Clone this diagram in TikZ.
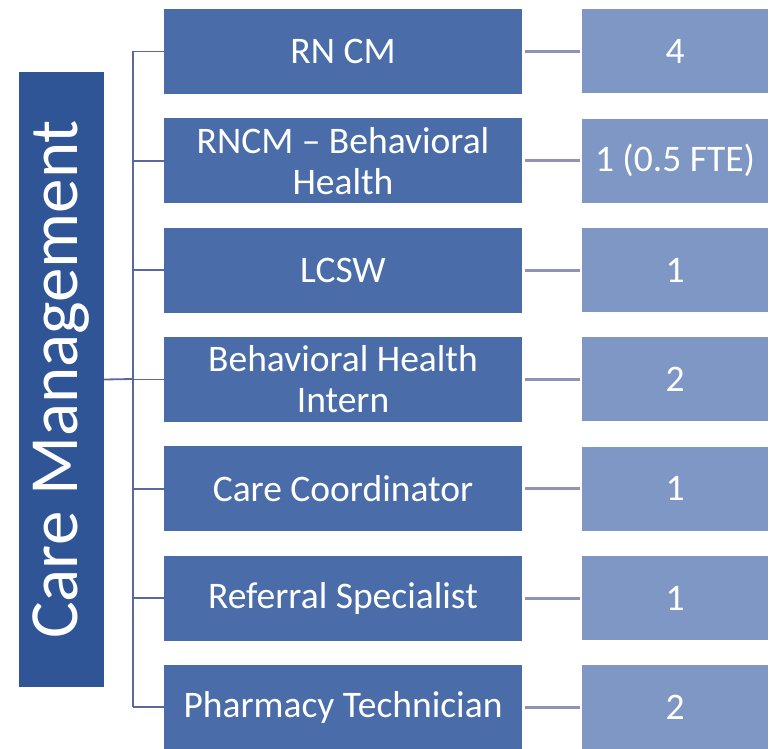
\documentclass[tikz,border=0pt]{standalone}
\usepackage{fontspec}
\setmainfont{Carlito}
\usetikzlibrary{positioning,calc}

\definecolor{mgrblue}{HTML}{2F5597}
\definecolor{roleblue}{HTML}{4A6DAA}
\definecolor{countblue}{HTML}{7F97C4}
\definecolor{treeline}{HTML}{5A68A0}
\definecolor{countline}{HTML}{8D92B6}

\begin{document}
\begin{tikzpicture}[x=1pt,y=-1pt]
    \tikzstyle{every node}=[rectangle,draw=none,inner sep=0,text=white]
    \tikzstyle{mgr}=[fill=mgrblue,minimum width=85,minimum height=615]
    \tikzstyle{role}=[fill=roleblue,minimum width=358,minimum height=85,align=center,font=\fontsize{37.5}{41}\selectfont]
    \tikzstyle{count}=[fill=countblue,minimum width=186,minimum height=84,font=\fontsize{37.5}{41}\selectfont]
    \tikzstyle{tree}=[treeline,line width=1.8]
    \tikzstyle{link}=[countline,line width=3]
    \useasboundingbox (0,0) rectangle (774,749);
    {
        \node[mgr] (mgr) at (61.5, 379.5) {};
        \node[rotate=90,font=\fontsize{69}{76}\selectfont] (mgrtext) at (mgr.center) {Care Management};
        \coordinate (trunk) at (133, 379);

        \foreach \i/\role/\num in {1/RN CM/4,
                                  2/{RNCM -- Behavioral\\Health}/1 (0.5 FTE),
                                  3/LCSW/1,
                                  4/{Behavioral Health\\Intern}/2,
                                  5/Care Coordinator/1,
                                  6/Referral Specialist/1,
                                  7/Pharmacy Technician/2} {
            \node[role] (r\i) at (343, 51.5+109.3*\i-109.3) {\role};
            \node[count] (c\i) at (675, 51.5+109.3*\i-109.3) {\num};
            \draw[tree] (trunk |- r\i.west) -- (r\i.west);
            \draw[link] ([xshift=3]r\i.east) -- ([xshift=-2]c\i.west);
        }
        \draw[tree] (mgr.east) -- (trunk);
        \draw[tree] (trunk |- r1.west) -- (trunk |- r7.west);
    }
\end{tikzpicture}
\end{document}
